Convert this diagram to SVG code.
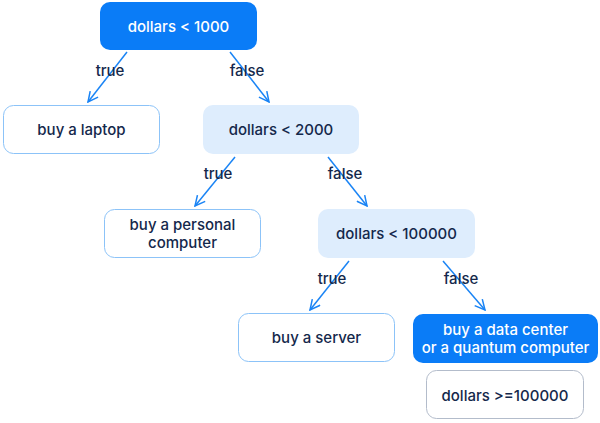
<svg xmlns="http://www.w3.org/2000/svg" width="600" height="423" viewBox="0 0 600 423">
<style>
text{font-family:Inter,"Noto Sans","Liberation Sans",sans-serif;font-size:15px;font-weight:500;fill:#14284b;text-anchor:middle;dominant-baseline:central}
.dark rect{fill:#0a7cf7}
.dark text{fill:#ffffff}
.light rect{fill:#deedfd}
.white rect{fill:#ffffff;stroke:#8cc3f8;stroke-width:1}
.gray rect{fill:#ffffff;stroke:#b3bccb;stroke-width:1}
.edge path{fill:none;stroke:#1a84f5;stroke-width:1.5}
</style>
<defs>
<marker id="arr" viewBox="0 0 12 12" refX="11" refY="6" markerWidth="12" markerHeight="12" markerUnits="userSpaceOnUse" orient="auto">
<path d="M1,1 L11,6 L1,11" fill="none" stroke="#1a84f5" stroke-width="1.5"/>
</marker>
</defs>
<g id="connectors" class="edge">
<path d="M127,52 L88,102" marker-end="url(#arr)"/>
<path d="M230,52 L269,102" marker-end="url(#arr)"/>
<path d="M235,157 L195,206" marker-end="url(#arr)"/>
<path d="M328,157 L367,206" marker-end="url(#arr)"/>
<path d="M349,261 L310,310" marker-end="url(#arr)"/>
<path d="M443,261 L485,310" marker-end="url(#arr)"/>
</g>
<g id="edge-labels">
<text x="110" y="70">true</text>
<text x="247" y="70">false</text>
<text x="218" y="173">true</text>
<text x="345" y="173">false</text>
<text x="332" y="278">true</text>
<text x="461" y="278">false</text>
</g>
<g id="n1" class="dark"><rect x="100" y="2" width="157" height="48" rx="10"/><text x="178.5" y="26">dollars &lt; 1000</text></g>
<g id="n2" class="white"><rect x="3.5" y="105.5" width="156" height="48" rx="10"/><text x="81.5" y="129.5">buy a laptop</text></g>
<g id="n3" class="light"><rect x="203" y="105" width="156" height="49" rx="10"/><text x="281" y="129.5">dollars &lt; 2000</text></g>
<g id="n4" class="white"><rect x="104.5" y="209.5" width="156" height="48" rx="10"/><text x="182.5" y="224.5">buy a personal</text><text x="182.5" y="242.5">computer</text></g>
<g id="n5" class="light"><rect x="318" y="209" width="157" height="49" rx="10"/><text x="396.5" y="233.5">dollars &lt; 100000</text></g>
<g id="n6" class="white"><rect x="238.5" y="313.5" width="156" height="48" rx="10"/><text x="316.5" y="337.5">buy a server</text></g>
<g id="n7" class="dark"><rect x="413" y="314" width="185" height="49" rx="10"/><text x="505.5" y="329">buy a data center</text><text x="505.5" y="347">or a quantum computer</text></g>
<g id="n8" class="gray"><rect x="426.5" y="370.5" width="157" height="48" rx="10"/><text x="505" y="395">dollars &gt;=100000</text></g>
</svg>
